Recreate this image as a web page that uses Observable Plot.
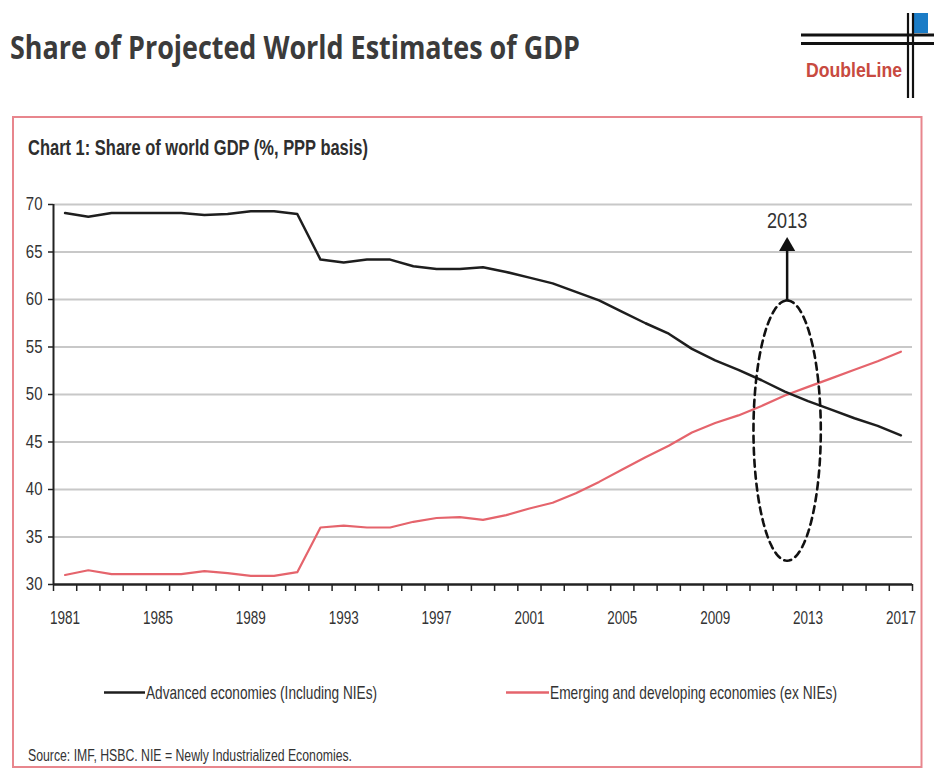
<!DOCTYPE html>
<html>
<head>
<meta charset="utf-8">
<script src="https://cdn.jsdelivr.net/npm/d3@7"></script>
<script src="https://cdn.jsdelivr.net/npm/@observablehq/plot@0.6"></script>
<style>
  body { margin: 0; background: #fff; }
  #page { position: relative; width: 936px; height: 769px; overflow: hidden; background: #fff; }
  #deco { position: absolute; left: 0; top: 0; }
  #chart { position: absolute; left: 0; top: 185px; }
</style>
</head>
<body>
<div id="page">
  <svg id="deco" width="936" height="769"></svg>
  <div id="chart"></div>
</div>
<script>
// ---- data ----
const years = [1981,1982,1983,1984,1985,1986,1987,1988,1989,1990,1991,1992,1993,1994,1995,1996,1997,1998,1999,2000,2001,2002,2003,2004,2005,2006,2007,2008,2009,2010,2011,2012,2013,2014,2015,2016,2017];
const advanced = [69.1,68.7,69.1,69.1,69.1,69.1,68.9,69.0,69.3,69.3,69.0,64.2,63.9,64.2,64.2,63.5,63.2,63.2,63.4,62.9,62.3,61.7,60.8,59.9,58.7,57.5,56.4,54.8,53.6,52.6,51.5,50.3,49.3,48.4,47.5,46.7,45.7];
const emerging = [31.0,31.5,31.1,31.1,31.1,31.1,31.4,31.2,30.9,30.9,31.3,36.0,36.2,36.0,36.0,36.6,37.0,37.1,36.8,37.3,38.0,38.6,39.6,40.8,42.1,43.4,44.6,46.0,47.0,47.8,48.8,49.9,50.8,51.7,52.6,53.5,54.5];
const seriesNames = ["Advanced economies (Including NIEs)", "Emerging and developing economies (ex NIEs)"];
const seriesColors = ["#1e1e1e", "#e5646c"];
const yTicks = [30,35,40,45,50,55,60,65,70];
const xTickLabels = [1981,1985,1989,1993,1997,2001,2005,2009,2013,2017];
const titleText = "Share of Projected World Estimates of GDP";
const chartTitle = "Chart 1: Share of world GDP (%, PPP basis)";
const sourceText = "Source: IMF, HSBC. NIE = Newly Industrialized Economies.";
const logoText = "DoubleLine";
// annotation: dashed ellipse around the crossover, arrow, label
const annoYear = 2012.1;
const annoLabel = "2013";
const ellipseCenterY = 46.2, ellipseHalfHeight = 13.7, ellipseHalfWidth = 1.45;

// ---- derived tables ----
const rowsAdv = years.map((yr, i) => ({year: yr, value: advanced[i]}));
const rowsEme = years.map((yr, i) => ({year: yr, value: emerging[i]}));
const boundaries = years.map(y => y - 0.5).concat([years[years.length - 1] + 0.5]);
const ellipse = d3.range(0, 121).map(k => {
  const t = (k / 120) * 2 * Math.PI;
  return {x: annoYear + ellipseHalfWidth * Math.sin(t), y: ellipseCenterY + ellipseHalfHeight * Math.cos(t)};
});

const xMin = boundaries[0], xMax = boundaries[boundaries.length - 1];
const font = "'Liberation Sans', Arial, sans-serif";

const plot = Plot.plot({
  width: 936,
  height: 455,
  marginLeft: 53,
  marginRight: 24,
  marginTop: 19,
  marginBottom: 56,
  x: {domain: [xMin, xMax]},
  y: {domain: [30, 70]},
  style: {fontFamily: font, fontSize: "18px", color: "#2b2b2b", background: "transparent", overflow: "visible"},
  marks: [
    Plot.gridY(yTicks.slice(1), {stroke: "#c8c8c8", strokeOpacity: 1, strokeWidth: 2}),
    Plot.axisY(yTicks, {tickSize: 5, tickPadding: 6, stroke: "#222", strokeWidth: 1.5, label: null, fontSize: 18, fill: "#333"}),
    Plot.axisX(boundaries, {tickSize: 7, tickFormat: () => "", stroke: "#222", strokeWidth: 1.5, label: null}),
    Plot.axisX(xTickLabels, {tickSize: 0, tickPadding: 27, tickFormat: d => String(d), label: null, fontSize: 18, fill: "#333"}),
    Plot.ruleX([xMin], {y1: 30, y2: 70, stroke: "#222", strokeWidth: 2}),
    Plot.ruleY([30], {x1: xMin, x2: xMax, stroke: "#222", strokeWidth: 2.5}),
    Plot.line(rowsEme, {x: "year", y: "value", stroke: seriesColors[1], strokeWidth: 2.2}),
    Plot.line(rowsAdv, {x: "year", y: "value", stroke: seriesColors[0], strokeWidth: 2.5}),
    Plot.line(ellipse, {x: "x", y: "y", stroke: "#111", strokeWidth: 2.6, strokeDasharray: "7,5"}),
    Plot.link([{x: annoYear, y1: ellipseCenterY + ellipseHalfHeight, y2: 65.6}], {x1: "x", x2: "x", y1: "y1", y2: "y2", stroke: "#111", strokeWidth: 2.5}),
    Plot.dot([{x: annoYear, y: 65.6}], {x: "x", y: "y", symbol: "triangle", r: 6, fill: "#111", stroke: "none"}),
    Plot.text([{x: annoYear, y: 68.3, t: annoLabel}], {x: "x", y: "y", text: "t", fontSize: 22, fill: "#333", textAnchor: "middle", lineAnchor: "middle"})
  ]
});
document.getElementById("chart").appendChild(plot);

// squeeze tick/annotation text horizontally (narrow font look) via textLength
function squeeze(node, s) {
  const w = node.getComputedTextLength();
  if (w > 0) {
    node.setAttribute("textLength", (w * s).toFixed(2));
    node.setAttribute("lengthAdjust", "spacingAndGlyphs");
  }
}
const svgPlot = d3.select(plot);
svgPlot.selectAll("g[aria-label='y-axis tick label'] text").each(function() { squeeze(this, 0.83); });
svgPlot.selectAll("g[aria-label='x-axis tick label'] text").each(function() { squeeze(this, 0.75); });
svgPlot.selectAll("g[aria-label='text'] text").each(function() { squeeze(this, 0.82); });

// ---- decorations: title, logo, frame, chart title, legend, source ----
const deco = d3.select("#deco");
deco.append("text").attr("x", 10).attr("y", 59).text(titleText)
  .attr("font-family", "'Open Sans', 'Noto Sans', sans-serif").attr("font-weight", 700)
  .attr("font-size", 32).attr("fill", "#3b3b3b")
  .attr("textLength", 570).attr("lengthAdjust", "spacingAndGlyphs");

// logo
deco.append("rect").attr("x", 914).attr("y", 13).attr("width", 14).attr("height", 20).attr("fill", "#1b7cc6");
[35, 43.5].forEach(yy => deco.append("line").attr("x1", 801).attr("x2", 934).attr("y1", yy).attr("y2", yy).attr("stroke", "#111").attr("stroke-width", 3));
[908, 913].forEach(xx => deco.append("line").attr("x1", xx).attr("x2", xx).attr("y1", 13).attr("y2", 98).attr("stroke", "#111").attr("stroke-width", 2.2));
deco.append("text").attr("x", 806).attr("y", 77).text(logoText)
  .attr("font-family", font).attr("font-weight", 700).attr("font-size", 21).attr("fill", "#c84a40")
  .attr("textLength", 96).attr("lengthAdjust", "spacingAndGlyphs");

// frame
deco.append("rect").attr("x", 13).attr("y", 117).attr("width", 908.5).attr("height", 650)
  .attr("fill", "none").attr("stroke", "#e8868d").attr("stroke-width", 2);

deco.append("text").attr("x", 28).attr("y", 155).text(chartTitle)
  .attr("font-family", font).attr("font-weight", 700).attr("font-size", 22).attr("fill", "#2e2e2e")
  .attr("textLength", 340).attr("lengthAdjust", "spacingAndGlyphs");

// legend
const legendItems = [
  {x1: 104, x2: 145, tx: 146, len: 231},
  {x1: 506, x2: 549, tx: 550, len: 287}
];
legendItems.forEach((it, i) => {
  deco.append("line").attr("x1", it.x1).attr("x2", it.x2).attr("y1", 692.5).attr("y2", 692.5)
    .attr("stroke", seriesColors[i]).attr("stroke-width", 2.5);
  deco.append("text").attr("x", it.tx).attr("y", 699).text(seriesNames[i])
    .attr("font-family", font).attr("font-size", 19).attr("fill", "#333")
    .attr("textLength", it.len).attr("lengthAdjust", "spacingAndGlyphs");
});

deco.append("text").attr("x", 28).attr("y", 761).text(sourceText)
  .attr("font-family", font).attr("font-size", 16).attr("fill", "#333")
  .attr("textLength", 324).attr("lengthAdjust", "spacingAndGlyphs");
</script>
</body>
</html>
